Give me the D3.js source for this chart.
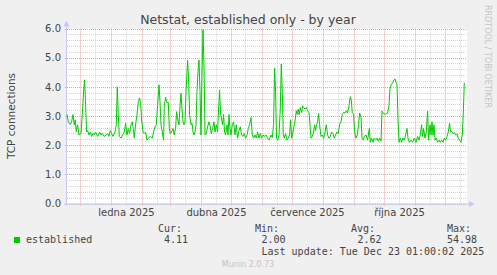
<!DOCTYPE html>
<html>
<head>
<meta charset="utf-8">
<script src="https://cdn.jsdelivr.net/npm/d3@7"></script>
<style>
body { margin: 0; background: #f0f0f0; }
svg text { font-family: "DejaVu Sans", sans-serif; fill: #444; }
svg text.mono { font-family: "DejaVu Sans Mono", monospace; font-size: 10px; }
</style>
</head>
<body>
<svg id="chart" width="497" height="275"></svg>
<script>
// days after the left edge of the graph (1 day per pixel, 400 days shown)
var days = [
  0,1.3,3.3,4.6,6,7.3,8.3,9.3,10.6,12,
  14,15.3,16.6,17.6,18.6,19.6,20.6,22,23.3,24.6,
  26,27.3,28.6,30.6,32.6,34,35.3,37.3,39.3,40.6,
  42,43.3,44.6,46,48,49.3,50.3,51.3,52.3,54,
  55.6,57.3,58.6,60,61.3,62.6,64,65.3,66.3,67.3,
  68.6,70,71.3,72.6,73.6,74.6,76,77.3,78.6,80,
  81.3,83.3,85.3,86.6,88,89.3,90.6,92,93,94,
  95.3,96.6,97.3,98.6,100,101.3,102.3,103.3,104.6,106,
  107.3,108.6,109.6,110.6,112,113,114,115,116,117,
  118,119,120,120.6,121.6,122.6,124,125,126,127,
  128,129,130,131,132,133,134,135,136,137,
  138,139.3,140.6,142,143.3,144.3,145.6,147,148,149.3,
  150.6,151.6,152.6,153.6,154.6,155.6,156.6,157.6,158.6,160,
  161,162,163,164,165.3,166.6,168,169.3,170.6,172,
  173.3,174.6,176,177.3,178.6,180,181.3,182.6,184,185.3,
  186.6,188,189.3,190.6,192,193.3,194.6,196,197.3,199,
  200.6,202.3,204,205.3,206.6,207.6,208.6,209.6,210.6,212,
  213.3,214.3,215.3,216.3,217.3,218.6,220,221.3,222.6,223.6,
  224.6,226,227.3,228.3,229.3,230.3,231.3,232.3,233.3,234.6,
  235.6,236.6,238,239.3,240.6,242,243,244,245.3,246.6,
  247.6,248.6,249.6,250.6,251.6,252.6,254,255.3,256.6,258,
  259.3,260.6,262,263.3,264.6,266,267.3,268.6,270,271.3,
  272.6,274,275.3,276.6,278,279.3,280.6,282,283.3,284.3,
  285.3,286.6,287.6,289,290.3,291.6,292.6,294,295,296.3,
  297.3,299,300.6,302.3,303.3,304.6,306,307.3,308.6,310,
  311.3,312.6,314,315,316.3,318,319.3,320.6,322,323,
  324.3,325.6,327,328,329,330,331,332,333.3,334.6,
  336,337.3,338.6,340,341,342.3,344,345.6,347.3,349,
  350.6,352,353.3,354.6,355.6,356.6,358,359.3,360.6,361.6,
  363,364,365,366,367,368,369.3,370.6,372,373.3,
  374.6,376,377.3,378.6,380,381.3,382.6,383.6,384.6,386,
  387.3,388.6,390,391.3,392.6,394,395.3,396.3,397.3,398
]

// established TCP connections
var established = [
  3.06,2.8,2.71,2.8,3.05,2.7,2.87,2.46,2.7,2.35,
  2.4,3.05,3.84,4.24,3.4,2.45,2.5,2.35,2.45,2.3,
  2.4,2.35,2.45,2.3,2.45,2.35,2.4,2.3,2.35,2.4,
  2.3,2.5,2.4,2.3,2.45,2.7,4.0,3.05,2.3,2.24,
  2.35,2.45,2.75,2.35,2.57,2.4,2.7,2.8,2.57,2.24,
  2.7,3.05,3.49,3.62,3.43,2.9,2.45,2.4,2.45,2.17,
  2.24,2.3,2.24,2.45,2.63,2.7,3.35,4.07,3.49,2.7,
  2.45,2.17,3.35,3.64,3.45,3.47,2.57,2.4,2.45,2.57,
  2.35,2.57,3.15,2.9,2.7,3.35,3.78,3.24,2.8,2.7,
  2.8,3.84,4.52,4.92,4.3,3.05,2.7,2.75,2.45,2.35,
  2.45,2.7,3.84,4.52,4.92,3.84,2.35,4.4,5.96,4.75,
  2.35,2.4,2.63,2.8,2.63,2.4,2.57,2.8,2.45,2.7,
  2.45,3.24,3.89,3.05,2.9,2.7,3.05,2.45,2.35,2.7,
  2.35,3.05,2.57,2.35,2.7,2.8,2.35,2.7,2.24,2.5,
  2.63,2.35,2.3,2.4,2.24,2.35,2.57,2.7,2.95,2.35,
  2.24,2.35,2.24,2.45,2.24,2.4,2.24,2.35,2.3,2.35,
  2.24,2.17,2.35,2.26,2.7,4.64,3.84,2.24,2.17,2.35,
  3.24,4.78,3.84,2.35,2.24,2.4,2.17,2.24,2.35,2.87,
  2.24,2.45,2.7,2.9,3.18,3.05,3.24,3.05,3.29,3.12,
  3.35,3.29,3.24,3.29,3.18,3.12,2.7,2.24,2.3,2.45,
  2.7,2.5,2.7,2.8,3.09,2.7,2.3,2.35,2.24,2.45,
  2.7,2.35,2.24,2.3,2.45,2.4,2.24,2.35,2.45,2.4,
  2.7,2.8,3.05,3.12,3.1,3.18,3.1,3.35,3.66,3.55,
  3.12,3.05,2.45,2.24,2.35,2.7,3.1,2.97,2.24,2.17,
  2.3,2.35,2.17,2.57,2.1,2.24,2.1,2.24,2.17,2.24,
  2.14,2.24,2.14,3.17,3.09,3.05,3.09,3.1,3.35,3.95,
  4.09,4.12,4.24,4.27,4.17,4.07,2.9,2.1,2.24,2.1,
  2.24,2.17,2.35,2.57,2.24,2.1,2.17,2.1,2.24,2.1,
  2.3,2.17,2.35,2.7,2.3,2.57,2.24,2.45,3.17,2.17,
  2.7,2.35,2.8,2.35,2.7,2.17,2.24,2.1,2.17,2.1,
  2.17,2.1,2.24,2.17,2.3,2.45,2.75,2.45,2.47,2.4,
  2.43,2.35,2.38,2.24,2.17,2.1,2.35,3.1,4.12,4.11
]

var yTicks = [0, 1, 2, 3, 4, 5, 6]
var monthLabels = ['ledna 2025', 'dubna 2025', 'července 2025', 'října 2025']
var labelDates = [new Date(2025, 0, 16, 12), new Date(2025, 3, 16, 12), new Date(2025, 6, 16, 12), new Date(2025, 9, 16, 12)]

var legendHeads = ['Cur:', 'Min:', 'Avg:', 'Max:']
var legendValues = ['4.11', '2.00', '2.62', '54.98']

var start = new Date(2024, 10, 18, 12)
var end = new Date(2025, 11, 23, 12)

var svg = d3.select('#chart')
var gLeft = 67, gTop = 28.5, gW = 400, gH = 175

var x = d3.scaleTime().domain([start, end]).range([gLeft, gLeft + gW])
var y = d3.scaleLinear().domain([0, 6]).range([gTop + gH, gTop])

svg.append('rect')
    .attr('x', gLeft).attr('y', gTop)
    .attr('width', gW).attr('height', gH)
    .attr('fill', '#fff')

// grid
var grid = svg.append('g').attr('fill', 'none').attr('stroke-dasharray', '1,1')

var minorY = d3.range(0, 6.01, 0.2).filter(v => Math.abs(v - Math.round(v)) > 0.01)
grid.selectAll('.minY').data(minorY).enter().append('line')
    .attr('x1', gLeft).attr('x2', gLeft + gW)
    .attr('y1', d => Math.round(y(d)) + 0.5).attr('y2', d => Math.round(y(d)) + 0.5)
    .attr('stroke', '#d4d4d4')

var months = d3.timeMonth.range(start, end)
var mids = months.map(m => new Date(m.getFullYear(), m.getMonth(), 16))
    .filter(d => d > start && d < end)
grid.selectAll('.minX').data(mids).enter().append('line')
    .attr('x1', d => Math.round(x(d)) + 0.5).attr('x2', d => Math.round(x(d)) + 0.5)
    .attr('y1', gTop).attr('y2', gTop + gH)
    .attr('stroke', '#d4d4d4')

grid.selectAll('.majY').data(yTicks).enter().append('line')
    .attr('x1', gLeft - 2).attr('x2', gLeft + gW)
    .attr('y1', d => Math.round(y(d)) + 0.5).attr('y2', d => Math.round(y(d)) + 0.5)
    .attr('stroke', '#eaa0a0')

grid.selectAll('.majX').data(months).enter().append('line')
    .attr('x1', d => Math.round(x(d)) + 0.5).attr('x2', d => Math.round(x(d)) + 0.5)
    .attr('y1', gTop).attr('y2', gTop + gH + 3)
    .attr('stroke', '#eaa0a0')

// axes lines with arrows
var axisColor = '#c8c8f4'
svg.append('line')
    .attr('x1', gLeft - 0.5).attr('x2', gLeft - 0.5)
    .attr('y1', gTop + gH + 2).attr('y2', gTop - 5)
    .attr('stroke', axisColor)
svg.append('path')
    .attr('d', `M${gLeft - 3.5},${gTop - 2} L${gLeft + 2.5},${gTop - 2} L${gLeft - 0.5},${gTop - 8} Z`)
    .attr('fill', axisColor)
svg.append('line')
    .attr('x1', gLeft - 3).attr('x2', gLeft + gW + 4)
    .attr('y1', gTop + gH + 0.5).attr('y2', gTop + gH + 0.5)
    .attr('stroke', axisColor)
svg.append('path')
    .attr('d', `M${gLeft + gW + 2},${gTop + gH - 2.5} L${gLeft + gW + 2},${gTop + gH + 3.5} L${gLeft + gW + 8},${gTop + gH + 0.5} Z`)
    .attr('fill', axisColor)

// data line
var line = d3.line()
    .x(d => x(d3.timeHour.offset(start, d[0] * 24)))
    .y(d => y(d[1]))
svg.append('path')
    .datum(d3.zip(days, established))
    .attr('d', line)
    .attr('fill', 'none')
    .attr('stroke', '#00cc00')
    .attr('stroke-width', 1)

// tick labels through d3 axes
var yAxis = svg.append('g')
    .attr('transform', `translate(${gLeft},0)`)
    .call(d3.axisLeft(y).tickValues(yTicks).tickFormat(d3.format('.1f')).tickSize(0).tickPadding(6))
yAxis.select('.domain').remove()
yAxis.selectAll('text').attr('font-size', 10).style('font-family', '"DejaVu Sans", sans-serif').attr('fill', '#444')

var xAxis = svg.append('g')
    .attr('transform', `translate(0,${gTop + gH})`)
    .call(d3.axisBottom(x).tickValues(labelDates).tickFormat((d, i) => monthLabels[i]).tickSize(0).tickPadding(5))
xAxis.select('.domain').remove()
xAxis.selectAll('text').attr('font-size', 10).style('font-family', '"DejaVu Sans", sans-serif').attr('fill', '#444')

// titles
svg.append('text')
    .attr('x', 248).attr('y', 24)
    .attr('text-anchor', 'middle')
    .attr('font-size', 12.5)
    .text('Netstat, established only - by year')

svg.append('text')
    .attr('transform', 'translate(15,116) rotate(-90)')
    .attr('text-anchor', 'middle')
    .attr('font-size', 10.5)
    .text('TCP connections')

svg.append('text')
    .attr('transform', 'translate(485,5) rotate(90)')
    .attr('font-size', 8)
    .style('fill', '#c4c4c4')
    .text('RRDTOOL / TOBI OETIKER')

// legend
svg.append('rect')
    .attr('x', 14).attr('y', 237).attr('width', 6).attr('height', 6)
    .attr('fill', '#00cc00')
svg.append('text').attr('class', 'mono')
    .attr('x', 26).attr('y', 243)
    .text('established')

var headX = [158, 255, 351, 447]
var valX = [164, 261.5, 357.5, 447]
svg.selectAll('.head').data(legendHeads).enter().append('text')
    .attr('class', 'mono')
    .attr('x', (d, i) => headX[i]).attr('y', 232)
    .text(d => d)
svg.selectAll('.val').data(legendValues).enter().append('text')
    .attr('class', 'mono')
    .attr('x', (d, i) => valX[i]).attr('y', 243)
    .text(d => d)

svg.append('text').attr('class', 'mono')
    .attr('x', 261.5).attr('y', 255)
    .text('Last update: Tue Dec 23 01:00:02 2025')

svg.append('text')
    .attr('x', 248).attr('y', 267)
    .attr('text-anchor', 'middle')
    .attr('font-size', 8)
    .style('fill', '#c4c4c4')
    .text('Munin 2.0.73')
</script>
</body>
</html>
